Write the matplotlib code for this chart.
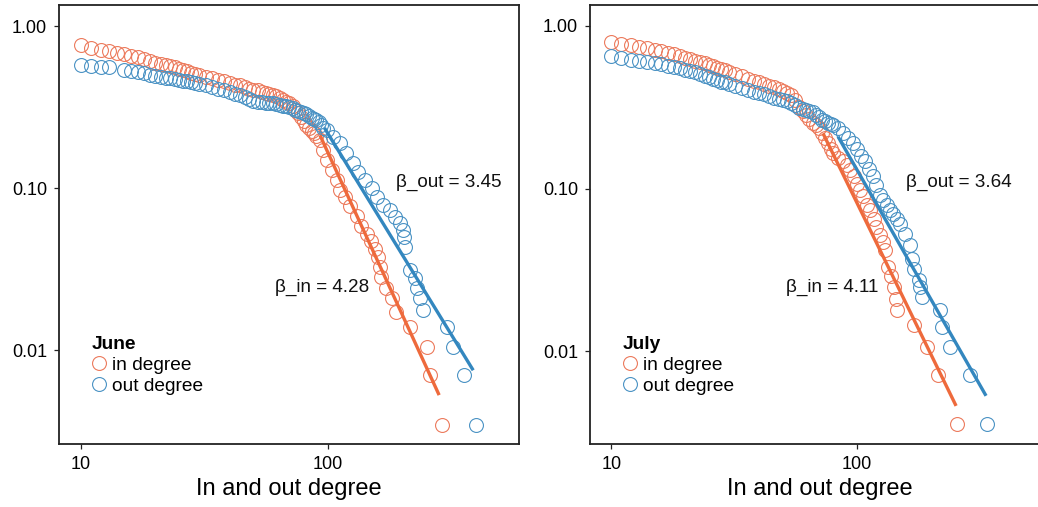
import matplotlib
matplotlib.use("Agg")
import matplotlib.pyplot as plt
from matplotlib.ticker import NullLocator, FixedLocator, FixedFormatter

plt.rcParams['font.family'] = ['Liberation Sans', 'DejaVu Sans']

# ---------------- data ----------------
june_in_deg = [10, 11, 12, 13, 14, 15, 16, 17, 18, 19, 20, 21, 22, 23, 24, 25, 26, 27, 28, 29,
               30, 32, 34, 36, 38, 40, 42, 44, 46, 48, 50, 52, 54, 56, 58, 60, 62, 64, 66, 68,
               70, 72, 74, 76, 78, 80, 82, 84, 86, 88, 90, 93, 96, 99, 104, 109, 112, 117, 123,
               131, 137, 144, 150, 156, 160, 163, 165, 173, 182, 190, 216, 252, 260, 290]
june_in_ccdf = [.76, .735, .715, .70, .685, .67, .655, .64, .625, .61, .595, .585, .575, .565,
                .555, .545, .535, .525, .515, .505, .50, .485, .475, .465, .455, .445, .435,
                .43, .42, .41, .405, .40, .39, .385, .38, .375, .37, .36, .35, .34, .335, .32,
                .305, .29, .275, .26, .245, .235, .225, .22, .21, .198, .172, .149, .129,
                .112, .097, .088, .077, .067, .058, .052, .047, .042, .0375, .0327, .0283,
                .0241, .0209, .0172, .0139, .0105, .0070, .00344]

june_out_deg = [10, 11, 12, 13, 15, 16, 17, 18, 19, 20, 21, 22, 23, 24, 25, 26, 27, 28, 29,
                30, 32, 34, 36, 38, 40, 42, 44, 46, 48, 50, 52, 54, 56, 58, 60, 62, 64, 66, 68,
                70, 72, 74, 76, 78, 80, 82, 84, 86, 88, 90, 92, 94, 96, 99, 105, 112, 119, 127,
                133, 142, 151, 158, 168, 179, 188, 196, 202, 204, 206, 216, 226, 230, 237, 243,
                304, 322, 357, 398]
june_out_ccdf = [.574, .568, .562, .556, .535, .528, .52, .512, .50, .49, .485, .48, .475,
                 .47, .465, .46, .455, .45, .445, .44, .43, .42, .41, .40, .39, .38, .375,
                 .365, .355, .345, .34, .338, .336, .335, .333, .33, .327, .323, .32, .316,
                 .31, .305, .30, .295, .29, .285, .278, .272, .267, .262, .255, .245, .235,
                 .228, .207, .19, .164, .143, .126, .112, .10, .088, .0785, .073, .0665, .061,
                 .055, .05, .0434, .0312, .0278, .0241, .0209, .0177, .0139, .0105, .0070,
                 .00344]

july_in_deg = [10, 11, 12, 13, 14, 15, 16, 17, 18, 19, 20, 21, 22, 23, 24, 25, 26, 27, 28, 29,
               30, 32, 34, 36, 38, 40, 42, 44, 46, 48, 50, 52, 54, 56, 58, 60, 62, 64, 66, 68,
               70, 72, 74, 76, 78, 80, 84, 88, 91, 94, 97, 100, 103, 106, 110, 113, 117, 120,
               124, 128, 130, 134, 138, 141, 144, 146, 170, 192, 214, 256]
july_in_ccdf = [.80, .78, .76, .745, .73, .715, .70, .685, .67, .655, .64, .625, .61, .60,
                .59, .575, .565, .555, .545, .535, .525, .51, .495, .475, .46, .45, .44, .43,
                .42, .41, .40, .39, .375, .35, .32, .30, .285, .27, .255, .245, .235, .22,
                .205, .19, .175, .165, .155, .148, .14, .13, .12, .107, .098, .09, .08, .074,
                .065, .058, .052, .047, .042, .033, .029, .025, .021, .018, .0146, .0107,
                .0072, .0036]

july_out_deg = [10, 11, 12, 13, 14, 15, 16, 17, 18, 19, 20, 21, 22, 23, 24, 25, 26, 27, 28,
                29, 30, 32, 34, 36, 38, 40, 42, 44, 46, 48, 50, 52, 54, 56, 58, 60, 62, 64, 66,
                68, 70, 72, 74, 76, 78, 80, 84, 88, 92, 96, 100, 104, 108, 112, 116, 120, 124,
                128, 132, 136, 140, 145, 150, 157, 164, 167, 170, 178, 181, 184, 218, 221, 239,
                288, 339]
july_out_ccdf = [.65, .635, .62, .61, .60, .59, .58, .57, .56, .55, .54, .53, .52, .505,
                 .495, .485, .475, .465, .455, .45, .44, .43, .415, .405, .395, .385, .38,
                 .37, .36, .355, .35, .345, .335, .325, .315, .31, .305, .30, .295, .285,
                 .275, .265, .26, .255, .25, .245, .235, .22, .205, .19, .175, .16, .148,
                 .132, .12, .105, .092, .085, .08, .074, .07, .065, .061, .053, .045, .037,
                 .032, .0275, .025, .0217, .018, .0142, .0107, .0072, .0036]

# fitted power-law segments (end points)
june_in_fit_x = [93, 283]
june_in_fit_y = [0.212, 0.00527]
june_out_fit_x = [97, 389]
june_out_fit_y = [0.235, 0.0075]
july_in_fit_x = [72.7, 253]
july_in_fit_y = [0.219, 0.00463]
july_out_fit_x = [83.7, 335]
july_out_fit_y = [0.209, 0.00534]

panels = [
    dict(month="June", in_x=june_in_deg, in_y=june_in_ccdf, out_x=june_out_deg,
         out_y=june_out_ccdf, fin=(june_in_fit_x, june_in_fit_y),
         fout=(june_out_fit_x, june_out_fit_y), beta_in="4.28", beta_out="3.45",
         pos_out=(189, 0.109), pos_in=(61, 0.0244), xlim=(8.14, 596.5), ylim=(0.00263, 1.348)),
    dict(month="July", in_x=july_in_deg, in_y=july_in_ccdf, out_x=july_out_deg,
         out_y=july_out_ccdf, fin=(july_in_fit_x, july_in_fit_y),
         fout=(july_out_fit_x, july_out_fit_y), beta_in="4.11", beta_out="3.64",
         pos_out=(157.8, 0.110), pos_in=(51.3, 0.0248), xlim=(8.19, 610), ylim=(0.0027, 1.346)),
]

x_ticks = [10, 100]
x_ticklabels = ["10", "100"]
y_ticks = [0.01, 0.1, 1.0]
y_ticklabels = ["0.01", "0.10", "1.00"]

ORANGE = "#EE6A3C"
BLUE = "#3387BF"
ORANGE_PT = "#EC7A5C"
BLUE_PT = "#4A92C4"

fig = plt.figure(figsize=(10.38, 5.07), dpi=100)
rects = [[59 / 1038, 63 / 507, 460 / 1038, 439 / 507],
         [590 / 1038, 63 / 507, 460 / 1038, 439 / 507]]

for rect, p in zip(rects, panels):
    ax = fig.add_axes(rect)
    ax.set_xscale("log")
    ax.set_yscale("log")
    ax.plot(p["in_x"], p["in_y"], linestyle="none", marker="o", markersize=10,
            markerfacecolor="none", markeredgecolor=ORANGE_PT, markeredgewidth=0.8,
            label="in degree", zorder=3)
    ax.plot(p["out_x"], p["out_y"], linestyle="none", marker="o", markersize=10,
            markerfacecolor="none", markeredgecolor=BLUE_PT, markeredgewidth=0.8,
            label="out degree", zorder=3)
    ax.plot(p["fin"][0], p["fin"][1], color=ORANGE, linewidth=2.4,
            solid_capstyle="butt", zorder=4)
    ax.plot(p["fout"][0], p["fout"][1], color=BLUE, linewidth=2.4,
            solid_capstyle="butt", zorder=4)
    ax.text(p["pos_out"][0], p["pos_out"][1], "β_out = " + p["beta_out"], fontsize=13.6,
            va="center", ha="left", color="#111111")
    ax.text(p["pos_in"][0], p["pos_in"][1], "β_in = " + p["beta_in"], fontsize=13.6,
            va="center", ha="left", color="#111111")
    ax.set_xlim(*p["xlim"])
    ax.set_ylim(*p["ylim"])
    ax.xaxis.set_major_locator(FixedLocator(x_ticks))
    ax.xaxis.set_major_formatter(FixedFormatter(x_ticklabels))
    ax.yaxis.set_major_locator(FixedLocator(y_ticks))
    ax.yaxis.set_major_formatter(FixedFormatter(y_ticklabels))
    ax.xaxis.set_minor_locator(NullLocator())
    ax.yaxis.set_minor_locator(NullLocator())
    ax.tick_params(axis="both", which="major", direction="out", length=3.5, width=0.9,
                   labelsize=13, pad=5, color="#222222")
    for s in ax.spines.values():
        s.set_linewidth(1.3)
        s.set_color("#222222")
    ax.set_xlabel("In and out degree", fontsize=17, labelpad=4)
    leg = ax.legend(title=p["month"], loc="upper left",
                    bbox_to_anchor=(0.07, 0.247), frameon=False, fontsize=13.8,
                    title_fontproperties={"weight": "bold", "size": 13.8},
                    handlelength=0.8, handletextpad=0.3, borderpad=0, borderaxespad=0,
                    labelspacing=0.2)
    leg._legend_box.align = "left"

fig.savefig("out.png", dpi=100)
